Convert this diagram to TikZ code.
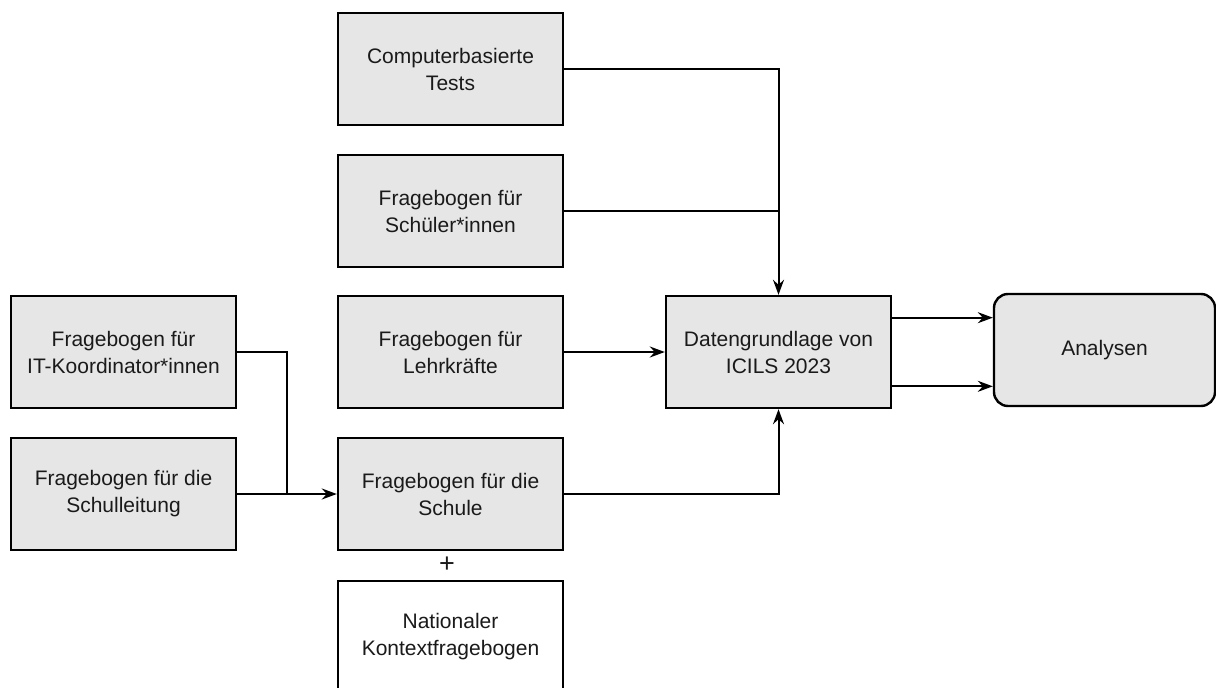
\documentclass[tikz,border=0pt]{standalone}
\usepackage{fontspec}
\setmainfont{Liberation Sans}
\usetikzlibrary{arrows.meta,calc}
\definecolor{boxgray}{HTML}{E6E6E6}
\definecolor{txtgray}{HTML}{1A1A1A}
\tikzset{every scope/.style={>={Stealth[length=15pt,width=11pt,inset=5pt]},line width=2pt},
  srcbox/.style={draw,line width=2.4pt,fill=boxgray,minimum width=225pt,minimum height=112pt,
    align=center,text=txtgray,font=\fontsize{21}{27}\selectfont},
  endbox/.style={srcbox,rounded corners=14pt,minimum width=221pt}}

\begin{document}
\begin{tikzpicture}[x=1pt,y=-1pt]
      \useasboundingbox (0,0) rectangle (1216,688);
      \begin{scope}
      \node[srcbox] (comp) at (450.5, 69) {Computerbasierte\\Tests};
      \node[srcbox] (schueler) at (450.5, 211) {Fragebogen für\\Schüler*innen};
      \node[srcbox] (lehr) at (450.5, 352) {Fragebogen für\\Lehrkräfte};
      \node[srcbox] (schule) at (450.5, 494) {Fragebogen für die\\Schule};
      \node[srcbox,fill=white] (national) at (450.5, 637) {Nationaler\\Kontextfragebogen};
      \node[text=txtgray,font=\fontsize{27}{27}\selectfont] (plus) at (447, 565) {+};
      \node[srcbox] (itk) at (123.5, 352) {Fragebogen für\\IT-Koordinator*innen};
      \node[srcbox] (leitung) at (123.5, 494) {Fragebogen für die\\Schulleitung};
      \node[srcbox] (daten) at (778.5, 352) {Datengrundlage von\\ICILS 2023};
      \node[endbox] (analysen) at (1104.5, 350) {Analysen};
      \coordinate (join) at (287, 494);
      \draw[->] (comp.east) -| (daten.north);
      \draw (schueler.east) -- (schueler.east -| daten.north);
      \draw[->] (lehr.east) -- (daten.west);
      \draw[->] (schule.east) -| (daten.south);
      \draw (itk.east) -| (join);
      \draw[->] (leitung.east) -- (schule.west);
      \draw[->] ($(daten.north east)!0.2!(daten.south east)$) coordinate (d1) -- (d1 -| analysen.west);
      \draw[->] ($(daten.north east)!0.8!(daten.south east)$) coordinate (d2) -- (d2 -| analysen.west);
      \end{scope}
    \end{tikzpicture}
\end{document}
